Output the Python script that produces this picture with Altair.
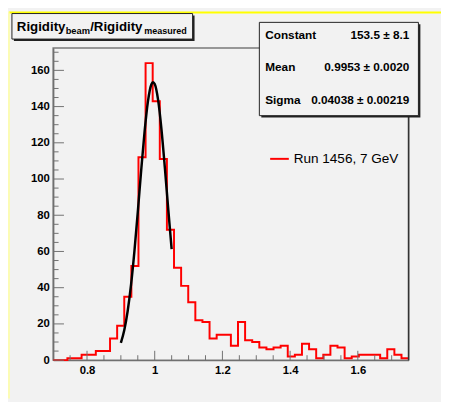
import altair as alt
import pandas as pd

# ---------------- data ----------------
bin_edges = [0.700, 0.721, 0.742, 0.763, 0.784, 0.805, 0.826, 0.847, 0.868, 0.889,
             0.910, 0.931, 0.952, 0.973, 0.994, 1.015, 1.036, 1.057, 1.078, 1.099,
             1.120, 1.141, 1.162, 1.183, 1.204, 1.225, 1.246, 1.267, 1.288, 1.309,
             1.330, 1.351, 1.372, 1.393, 1.414, 1.435, 1.456, 1.477, 1.498, 1.519,
             1.540, 1.561, 1.582, 1.603, 1.624, 1.645, 1.666, 1.687, 1.708, 1.729,
             1.750]
bin_counts = [0, 0, 1, 1, 3, 3, 5, 5, 12, 19,
              35, 52, 112, 164, 143, 111, 72, 51, 41, 32,
              22, 21, 12, 14, 14, 8, 21, 11, 10, 7,
              6, 7, 8, 2, 3, 9, 6, 1, 3, 8,
              7, 1, 2, 3, 3, 3, 1, 6, 3, 1]

fit_x = [0.900, 0.910, 0.920, 0.930, 0.940, 0.950, 0.960, 0.970, 0.980, 0.990,
         0.995, 1.000, 1.010, 1.020, 1.030, 1.040, 1.050]
fit_y = [9.5, 16.5, 27.0, 41.5, 60.1, 81.8, 104.7, 126.1, 142.9, 152.2,
         153.5, 152.5, 143.7, 127.3, 106.1, 83.2, 61.3]

x_major = [0.8, 1.0, 1.2, 1.4, 1.6]
x_minor = [0.75, 0.85, 0.9, 0.95, 1.05, 1.1, 1.15, 1.25, 1.3, 1.35,
           1.45, 1.5, 1.55, 1.65, 1.7]
y_major = [0, 20, 40, 60, 80, 100, 120, 140, 160]
y_minor = [5, 10, 15, 25, 30, 35, 45, 50, 55, 65, 70, 75, 85, 90, 95,
           105, 110, 115, 125, 130, 135, 145, 150, 155, 165, 170]

title_parts = ["Rigidity", "beam", "/Rigidity", "measured"]
stat_names = ["Constant", "Mean", "Sigma"]
stat_values = ["153.5 \u00b1 8.1", "0.9953 \u00b1 0.0020", "0.04038 \u00b1 0.00219"]
legend_label = "Run 1456, 7 GeV"

# ---------------- layout / style ----------------
W, H = 362, 318
BG = "#f2f2f2"
FONT = "Liberation Sans"
AXC = "#707070"

xs = alt.Scale(domain=[0.7, 1.75], nice=False, zero=False)
ys = alt.Scale(domain=[0, 172.4], nice=False, zero=True)

ax_x = alt.Axis(
    values=x_major, labelExpr="format(datum.value, '~g')", ticks=False,
    tickSize=0, labelPadding=5, domainColor=AXC, domainWidth=1.5,
    labelFont=FONT, labelFontSize=11.5, labelFontWeight="bold",
    labelColor="black", grid=False, title=None, labelFlush=False)
ax_y = alt.Axis(
    values=y_major, format="d", ticks=False, tickSize=0, labelPadding=4,
    domainColor=AXC, domainWidth=1.5, labelFont=FONT, labelFontSize=11.5,
    labelFontWeight="bold", labelColor="black", grid=False, title=None,
    labelFlush=False)

hist_df = pd.DataFrame({"x": bin_edges, "count": bin_counts + [bin_counts[-1]]})
fit_df = pd.DataFrame({"x": fit_x, "y": fit_y})


def one(text):
    return alt.Data(values=[{"t": text}])


def rect(x1, x2, y1, y2, fill, stroke=None):
    kw = dict(fill=fill)
    if stroke:
        kw.update(stroke=stroke, strokeWidth=1)
    return alt.Chart(one("")).mark_rect(**kw).encode(
        x=alt.value(x1), x2=alt.value(x2), y=alt.value(y1), y2=alt.value(y2))


def text(t, x, y, size, weight="bold", align="left", baseline="alphabetic"):
    return alt.Chart(one(t)).mark_text(
        font=FONT, fontSize=size, fontWeight=weight, align=align,
        baseline=baseline, color="black").encode(
        x=alt.value(x), y=alt.value(y), text="t:N")


# frame decorations (yellow borders of the canvas)
yellow_top = alt.Chart(one("")).mark_rule(color="#ffff00", strokeWidth=2).encode(
    x=alt.value(-45), x2=alt.value(W + 33), y=alt.value(-36))
yellow_left = alt.Chart(one("")).mark_rule(color="#ffffa0", strokeWidth=1.5).encode(
    x=alt.value(-45), y=alt.value(-37), y2=alt.value(H + 39))

hist = alt.Chart(hist_df).mark_line(
    interpolate="step-after", color="#ff0000", strokeWidth=2).encode(
    x=alt.X("x:Q", scale=xs, axis=ax_x),
    y=alt.Y("count:Q", scale=ys, axis=ax_y))

fit = alt.Chart(fit_df).mark_line(
    color="black", strokeWidth=2.5, interpolate="monotone").encode(
    x=alt.X("x:Q", scale=xs, axis=ax_x),
    y=alt.Y("y:Q", scale=ys, axis=ax_y))

xt_major = alt.Chart(pd.DataFrame({"v": x_major})).mark_rule(
    color=AXC, strokeWidth=1).encode(
    x=alt.X("v:Q", scale=xs, axis=ax_x), y=alt.value(H), y2=alt.value(H - 9.5))
xt_minor = alt.Chart(pd.DataFrame({"v": x_minor})).mark_rule(
    color=AXC, strokeWidth=1).encode(
    x=alt.X("v:Q", scale=xs, axis=ax_x), y=alt.value(H), y2=alt.value(H - 5))
yt_major = alt.Chart(pd.DataFrame({"v": y_major})).mark_rule(
    color=AXC, strokeWidth=1).encode(
    y=alt.Y("v:Q", scale=ys, axis=ax_y), x=alt.value(0), x2=alt.value(11))
yt_minor = alt.Chart(pd.DataFrame({"v": y_minor})).mark_rule(
    color=AXC, strokeWidth=1).encode(
    y=alt.Y("v:Q", scale=ys, axis=ax_y), x=alt.value(0), x2=alt.value(5.5))

right_frame = alt.Chart(one("")).mark_rule(color="#333333", strokeWidth=1.5).encode(
    x=alt.value(W), y=alt.value(0), y2=alt.value(H))

# title box
title_shadow = rect(-40, 144, -33, -7, "#222222")
title_box = rect(-42, 142, -35, -9, BG, "#222222")
t1 = text(title_parts[0], -37, -17.5, 13.5)
t2 = text(title_parts[1], 12.7, -14, 9.5)
t3 = text(title_parts[2], 37.7, -17.5, 13.5)
t4 = text(title_parts[3], 92.7, -14, 9.2)

# stats box
stats_shadow = rect(212, 374, -24, 71, "#222222")
stats_box = rect(210, 372, -26, 69, BG, "#222222")
stat_layers = []
for name, val, yy in zip(stat_names, stat_values, [-13.3, 20, 52.7]):
    stat_layers.append(text(name, 216, yy, 12, baseline="middle"))
    stat_layers.append(text(val, 362.7, yy, 12, align="right", baseline="middle"))

# legend
leg_line = alt.Chart(one("")).mark_rule(color="#ff0000", strokeWidth=2).encode(
    x=alt.value(221), x2=alt.value(240), y=alt.value(113))
leg_text = text(legend_label, 245, 113, 13.8, weight="normal", baseline="middle")

chart = alt.layer(
    yellow_top, yellow_left, hist, fit, xt_major, xt_minor, yt_major, yt_minor,
    right_frame, title_shadow, title_box, t1, t2, t3, t4,
    stats_shadow, stats_box, *stat_layers, leg_line, leg_text,
).properties(
    width=W, height=H,
    padding={"left": 46, "top": 37, "right": 33, "bottom": 39},
    autosize=alt.AutoSizeParams(type="none"),
    background=BG,
).configure_view(stroke="#7a7a7a", strokeWidth=1.5)

chart.save("out.html", embed_options={"renderer": "svg", "actions": False})
